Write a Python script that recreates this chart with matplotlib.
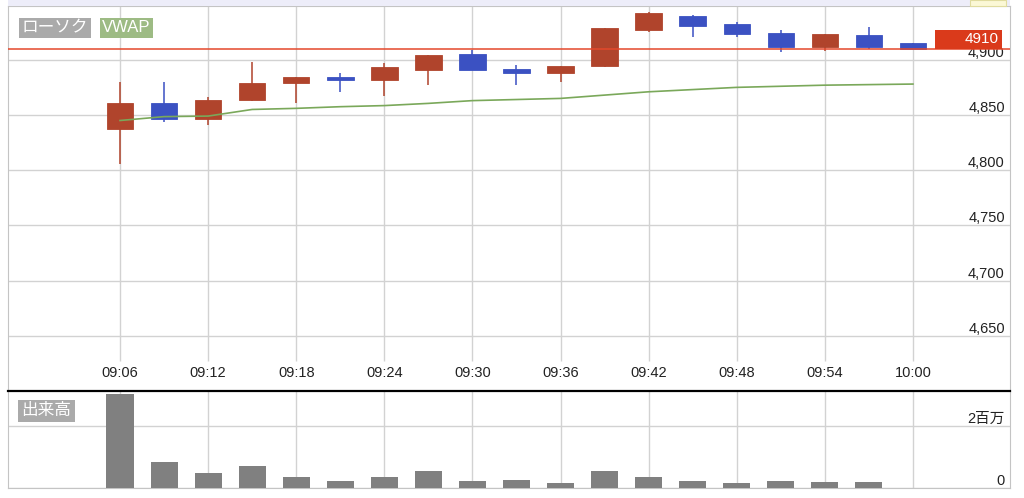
import matplotlib.pyplot as plt
import matplotlib.transforms as mtransforms
from matplotlib.patches import Rectangle

plt.rcParams['font.family'] = ['Liberation Sans', 'Noto Sans CJK JP', 'DejaVu Sans']

# 3-minute candles, 09:06 - 10:00
times = ["09:06", "09:09", "09:12", "09:15", "09:18", "09:21", "09:24", "09:27", "09:30", "09:33",
         "09:36", "09:39", "09:42", "09:45", "09:48", "09:51", "09:54", "09:57", "10:00"]
opens = [4837, 4861, 4846, 4864, 4879, 4884, 4882, 4891, 4905, 4892,
         4888, 4894, 4927, 4940, 4932, 4924, 4912, 4922, 4915]
highs = [4880, 4880, 4866, 4898, 4884, 4888, 4897, 4904, 4909, 4895,
         4894, 4929, 4943, 4941, 4934, 4927, 4923, 4930, 4915]
lows = [4806, 4844, 4841, 4863, 4861, 4871, 4867, 4877, 4891, 4877,
        4880, 4893, 4925, 4921, 4921, 4907, 4908, 4910, 4910]
closes = [4861, 4846, 4864, 4879, 4884, 4882, 4893, 4904, 4891, 4888,
          4894, 4929, 4942, 4931, 4923, 4912, 4923, 4912, 4910]
vwap = [4845, 4848.5, 4849, 4855, 4856, 4857.5, 4858.5, 4860.5, 4863, 4864,
        4865, 4868, 4871, 4873, 4875, 4876, 4877, 4877.5, 4878]
volumes = [3.03e6, 0.84e6, 0.48e6, 0.71e6, 0.35e6, 0.23e6, 0.35e6, 0.55e6, 0.23e6,
           0.26e6, 0.16e6, 0.55e6, 0.35e6, 0.23e6, 0.16e6, 0.23e6, 0.20e6, 0.20e6]
last_price = 4910
price_ticks = [4650, 4700, 4750, 4800, 4850, 4900]
price_labels = ["4,650", "4,700", "4,750", "4,800", "4,850", "4,900"]
vol_ticks = [0, 2e6]
vol_labels = ["0", "2百万"]

UP = "#b0442c"
DOWN = "#3b51c2"
GRID = "#d2d2d2"
FRAME = "#c4c4c4"


def to_min(t):
    h, m = t.split(":")
    return (int(h) - 9) * 60 + int(m)


x = [to_min(t) for t in times]
xv = x[:len(volumes)]
tick_x = x[::2]
tick_lbl = times[::2]

W, H = 1024, 498
fig = plt.figure(figsize=(W / 100, H / 100), dpi=100)
fig.patch.set_facecolor("white")
fig.patches.append(Rectangle((8 / W, 1 - 6 / H), 1002 / W, 6 / H, transform=fig.transFigure,
                             facecolor="#ededf9", edgecolor="none"))
fig.patches.append(Rectangle((970 / W, 1 - 6 / H), 36 / W, 6 / H, transform=fig.transFigure,
                             facecolor="#fbf8d6", edgecolor="#e0dca0", lw=0.8))

ax = fig.add_axes([8 / W, 1 - 391 / H, 1002 / W, 385 / H])
axv = fig.add_axes([8 / W, 1 - 488 / H, 1002 / W, 97 / H])
xlim = (-1.63, 66.61)

# price panel
ax.set_xlim(*xlim)
ax.set_ylim(4600, 4948.7)
ax.set_yticks(price_ticks)
ax.set_yticklabels(price_labels)
ax.yaxis.grid(True, color=GRID, lw=1)
ax.set_axisbelow(True)
ax.vlines(tick_x, 4627, 4948.7, color=GRID, lw=1, zorder=0.5)
ax.set_xticks(tick_x)
ax.set_xticklabels(tick_lbl)
ax.tick_params(axis="x", length=0, pad=-18, labelsize=10.5, colors="#222222")
ax.tick_params(axis="y", left=False, right=False, labelleft=False, labelright=True,
               pad=-7.2, labelsize=10.5, colors="#222222")
for lbl in ax.get_yticklabels():
    lbl.set_ha("right")
    lbl.set_va("bottom")
for side in ["left", "right", "top"]:
    ax.spines[side].set_color(FRAME)
ax.spines["bottom"].set_visible(False)

for xi, o, h, l, c in zip(x, opens, highs, lows, closes):
    col = UP if c >= o else DOWN
    ax.vlines(xi, l, h, color=col, lw=1.3, alpha=0.85, zorder=3)
    ax.bar(xi, max(abs(c - o), 1.2), bottom=min(o, c), width=1.8, color=col,
           edgecolor=col, lw=0.6, zorder=3)

ax.plot(x, vwap, color="#7aa85a", lw=1.2, zorder=4)
ax.axhline(last_price, color="#e4482b", lw=1.1, zorder=4)

tr = mtransforms.blended_transform_factory(ax.transAxes, ax.transData)
ax.add_patch(Rectangle((0.925, last_price), 0.0669, 17.2, transform=tr,
                       facecolor="#da3a1b", edgecolor="none", zorder=6, clip_on=False))
ax.text(0.989, last_price + 8.6, str(last_price), transform=tr, ha="right", va="center",
        color="white", fontsize=11, zorder=7)

ax.text(0.0135, 0.944, "ローソク", transform=ax.transAxes, ha="left", va="center",
        color="white", fontsize=12,
        bbox=dict(boxstyle="square,pad=0.15", facecolor="#aaaaaa", edgecolor="none"))
ax.text(0.094, 0.944, "VWAP", transform=ax.transAxes, ha="left", va="center",
        color="white", fontsize=12,
        bbox=dict(boxstyle="square,pad=0.15", facecolor="#9dbb84", edgecolor="none"))

# volume panel
axv.set_xlim(*xlim)
axv.set_ylim(0, 3.13e6)
axv.bar(xv, volumes, width=1.85, color="#808080", zorder=3)
axv.set_xticks(tick_x)
axv.set_yticks(vol_ticks)
axv.set_yticklabels(vol_labels)
axv.grid(True, color=GRID, lw=1)
axv.set_axisbelow(True)
axv.tick_params(axis="x", length=0, labelbottom=False)
axv.tick_params(axis="y", left=False, right=False, labelleft=False, labelright=True,
                pad=-7.2, labelsize=10.5, colors="#222222")
for lbl in axv.get_yticklabels():
    lbl.set_ha("right")
    lbl.set_va("bottom")
for side in ["left", "right", "bottom"]:
    axv.spines[side].set_color(FRAME)
axv.spines["top"].set_color("black")
axv.spines["top"].set_linewidth(1.6)

axv.text(0.0135, 0.794, "出来高", transform=axv.transAxes, ha="left", va="center",
         color="white", fontsize=12,
         bbox=dict(boxstyle="square,pad=0.2", facecolor="#aaaaaa", edgecolor="none"))

fig.savefig("out.png", dpi=100)
